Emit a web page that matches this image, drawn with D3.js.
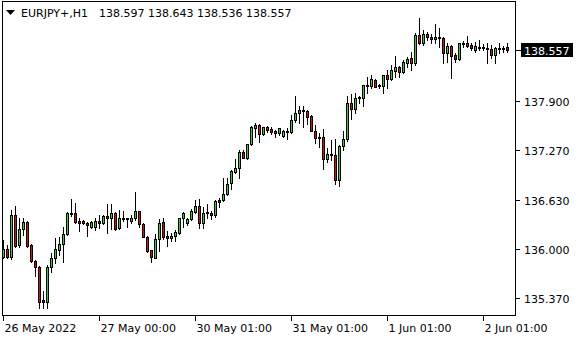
<!DOCTYPE html>
<html>
<head>
<meta charset="utf-8">
<script src="https://cdn.jsdelivr.net/npm/d3@7"></script>
<style>
  body { margin: 0; background: #fff; }
  text { font-family: "DejaVu Sans", sans-serif; font-size: 11px; }
</style>
</head>
<body>
<svg id="chart" width="580" height="340"></svg>
<script>
// EURJPY+ H1, one value per bar
const open = [
  135.895,135.998,135.895,136.435,136.049,136.255,136.345,136.049,135.843,135.766,
  135.342,135.316,135.766,135.882,135.985,136.062,136.190,136.460,136.460,136.357,
  136.357,136.332,136.280,136.280,136.357,136.332,136.422,136.396,136.460,136.268,
  136.383,136.396,136.357,136.396,136.486,136.319,136.152,135.985,135.882,136.126,
  136.345,136.165,136.139,136.165,136.203,136.396,136.332,136.383,136.473,136.550,
  136.332,136.473,136.460,136.435,136.627,136.627,136.704,136.846,136.987,137.039,
  137.244,137.167,137.347,137.553,137.591,137.476,137.566,137.540,137.514,137.489,
  137.450,137.514,137.501,137.656,137.746,137.784,137.771,137.707,137.514,137.437,
  137.437,137.154,137.219,137.206,136.884,137.322,137.411,137.874,137.797,137.938,
  137.938,138.106,138.093,138.170,138.106,138.093,138.234,138.183,138.285,138.337,
  138.273,138.388,138.453,138.388,138.748,138.645,138.761,138.722,138.697,138.722,
  138.710,138.517,138.607,138.491,138.440,138.645,138.645,138.620,138.555,138.594,
  138.581,138.581,138.568,138.491,138.581,138.568,138.597
];
const high = [
  136.113,136.049,136.499,136.550,136.396,136.396,136.357,136.062,135.856,135.779,
  135.458,135.792,135.946,136.139,136.152,136.280,136.473,136.640,136.589,136.396,
  136.370,136.345,136.357,136.396,136.435,136.435,136.576,136.576,136.473,136.499,
  136.486,136.396,136.435,136.730,136.486,136.332,136.165,135.985,136.190,136.383,
  136.396,136.229,136.203,136.242,136.396,136.473,136.396,136.512,136.627,136.640,
  136.537,136.576,136.486,136.627,136.653,136.910,136.910,137.013,137.154,137.270,
  137.270,137.347,137.579,137.617,137.604,137.566,137.579,137.566,137.527,137.553,
  137.527,137.553,137.720,137.964,137.836,137.836,137.784,137.720,137.591,137.489,
  137.540,137.296,137.399,137.411,137.334,137.514,137.964,137.990,138.003,137.964,
  138.106,138.208,138.234,138.183,138.118,138.234,138.298,138.363,138.478,138.350,
  138.427,138.465,138.530,138.774,138.967,138.812,138.787,138.761,138.890,138.838,
  138.722,138.645,138.620,138.517,138.645,138.671,138.735,138.645,138.658,138.684,
  138.632,138.645,138.620,138.594,138.645,138.607,138.643
];
const low = [
  135.882,135.882,135.869,136.023,136.023,136.178,136.023,135.831,135.651,135.239,
  135.239,135.239,135.702,135.818,135.921,135.831,136.178,136.422,136.332,136.229,
  136.319,136.165,136.268,136.242,136.268,136.319,136.203,136.255,136.242,136.255,
  136.357,136.280,136.332,136.370,136.280,136.152,135.959,135.831,135.882,135.972,
  136.126,136.036,136.100,136.100,136.190,136.280,136.306,136.370,136.460,136.268,
  136.268,136.396,136.383,136.409,136.537,136.615,136.692,136.769,136.974,136.910,
  137.167,137.154,137.334,137.437,137.373,137.463,137.501,137.476,137.437,137.463,
  137.437,137.411,137.489,137.630,137.617,137.566,137.604,137.514,137.360,137.309,
  137.026,137.116,137.142,136.833,136.807,137.270,137.386,137.669,137.746,137.874,
  137.836,138.003,138.067,138.080,138.067,138.003,138.067,138.170,138.208,138.208,
  138.260,138.337,138.298,138.363,138.632,138.620,138.684,138.645,138.645,138.594,
  138.388,138.401,138.196,138.401,138.427,138.594,138.594,138.555,138.530,138.555,
  138.555,138.388,138.453,138.388,138.517,138.530,138.536
];
const close = [
  135.998,135.895,136.435,136.036,136.255,136.345,136.036,135.843,135.766,135.316,
  135.316,135.766,135.882,135.998,136.062,136.190,136.460,136.447,136.345,136.332,
  136.332,136.306,136.345,136.357,136.332,136.422,136.396,136.460,136.255,136.396,
  136.396,136.383,136.396,136.486,136.319,136.152,135.972,135.895,136.126,136.332,
  136.152,136.139,136.165,136.216,136.396,136.460,136.383,136.486,136.550,136.332,
  136.460,136.460,136.435,136.615,136.602,136.704,136.833,137.000,137.039,137.244,
  137.167,137.347,137.566,137.591,137.476,137.566,137.527,137.501,137.489,137.553,
  137.514,137.501,137.656,137.746,137.784,137.771,137.694,137.514,137.424,137.424,
  137.154,137.219,137.206,136.884,137.322,137.411,137.874,137.797,137.938,137.951,
  138.106,138.093,138.183,138.080,138.093,138.234,138.183,138.298,138.337,138.273,
  138.401,138.440,138.388,138.748,138.645,138.761,138.722,138.697,138.722,138.710,
  138.517,138.607,138.478,138.440,138.645,138.632,138.607,138.581,138.607,138.581,
  138.594,138.568,138.491,138.581,138.568,138.581,138.557
];

const symbol = "EURJPY+,H1";
const xTickIndex = [0, 24, 48, 72, 96, 120];
const xTickText = ["26 May 2022", "27 May 00:00", "30 May 01:00", "31 May 01:00", "1 Jun 01:00", "2 Jun 01:00"];
const yTicks = [135.37, 136.0, 136.63, 137.27, 137.9];

const bull = "#2ad62a";
const bear = "#d01010";

const svg = d3.select("#chart");
const n = close.length;

// plot frame: x 2..515, y 1..315
const x = d3.scaleLinear().domain([0, n - 1]).range([3.5, 3.5 + 4 * (n - 1)]);
const y = d3.scaleLinear().domain([135.37, 137.9]).range([297.8, 101]);
const fmt = d3.format(".3f");

const bars = d3.range(n).map((i) => ({ i, o: open[i], h: high[i], l: low[i], c: close[i] }));

const plot = svg.append("g");

plot.selectAll(".wick")
  .data(bars)
  .enter()
  .append("line")
  .attr("class", "wick")
  .attr("x1", (d) => x(d.i))
  .attr("x2", (d) => x(d.i))
  .attr("y1", (d) => Math.round(y(d.h)))
  .attr("y2", (d) => Math.round(y(d.l)) + 1)
  .attr("stroke", "#000")
  .attr("stroke-width", 1);

plot.selectAll(".body")
  .data(bars)
  .enter()
  .append("rect")
  .attr("class", "body")
  .attr("x", (d) => x(d.i) - 1)
  .attr("width", 2)
  .attr("y", (d) => Math.round(y(Math.max(d.o, d.c))) + 0.5)
  .attr("height", (d) => {
    let t = Math.round(y(Math.max(d.o, d.c)));
    let b = Math.round(y(Math.min(d.o, d.c)));
    return Math.max(b - t, 1);
  })
  .attr("fill", (d) => (d.c >= d.o ? bull : bear))
  .attr("stroke", "#000")
  .attr("stroke-width", 1);

// frame
svg.append("rect")
  .attr("x", 2.5)
  .attr("y", 1.5)
  .attr("width", 513)
  .attr("height", 314)
  .attr("fill", "none")
  .attr("stroke", "#000");

// header
svg.append("path")
  .attr("d", "M6,10 L15,10 L10.5,15 Z")
  .attr("fill", "#000");
svg.append("text").attr("x", 21).attr("y", 17).text(symbol);
svg.append("text")
  .attr("x", 99)
  .attr("y", 17)
  .text([open[n - 1], high[n - 1], low[n - 1], close[n - 1]].map(fmt).join(" "));

// price axis
const yAxis = svg.append("g");
yTicks.forEach((v) => {
  let py = Math.round(y(v)) + 0.5;
  yAxis.append("line")
    .attr("x1", 516).attr("x2", 520)
    .attr("y1", py).attr("y2", py)
    .attr("stroke", "#000");
  yAxis.append("text")
    .attr("x", 524)
    .attr("y", py + 4)
    .attr("fill", "#000")
    .text(fmt(v));
});

// current price box
const last = close[n - 1];
const ly = Math.round(y(last)) + 0.5;
yAxis.append("line")
  .attr("x1", 516).attr("x2", 521)
  .attr("y1", ly).attr("y2", ly)
  .attr("stroke", "#000");
yAxis.append("rect")
  .attr("x", 521)
  .attr("y", ly - 7.5)
  .attr("width", 52)
  .attr("height", 14)
  .attr("fill", "#000");
yAxis.append("text")
  .attr("x", 524)
  .attr("y", ly + 4)
  .attr("fill", "#fff")
  .text(fmt(last));

// time axis
const xAxis = svg.append("g");
xTickIndex.forEach((idx, k) => {
  let px = Math.floor(x(idx)) + 0.5;
  xAxis.append("line")
    .attr("x1", px).attr("x2", px)
    .attr("y1", 316).attr("y2", 321)
    .attr("stroke", "#000");
  xAxis.append("text")
    .attr("x", px + 1)
    .attr("y", 332)
    .attr("fill", "#000")
    .text(xTickText[k]);
});
</script>
</body>
</html>
